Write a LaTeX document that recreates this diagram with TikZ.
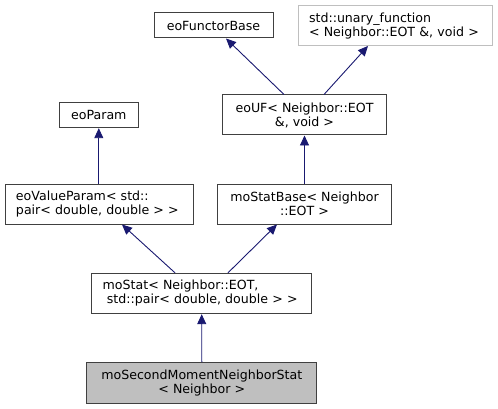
\documentclass[tikz,border=0pt]{standalone}
\usepackage{fontspec}
\setmainfont{DejaVu Sans}
\usetikzlibrary{arrows.meta}
\definecolor{edgeblue}{HTML}{191970}
\definecolor{boxgrey}{HTML}{404040}
\definecolor{lightgrey}{HTML}{BFBFBF}
\begin{document}
\begin{tikzpicture}[x=1pt,y=-1pt,
  box/.style={draw=boxgrey,line width=1pt,rectangle,inner sep=0pt,align=center,font=\fontsize{12.6}{14}\selectfont},
  lbox/.style={box,align=left,inner xsep=11pt},
  arr/.style={draw=edgeblue,line width=0.9pt,-{Triangle[length=10pt,width=9pt,fill=edgeblue]}}]
\useasboundingbox (0,0) rectangle (498,409);
\node[box,minimum width=119pt,minimum height=25pt] (fb) at (213.5,25.5) {eoFunctorBase};
\node[lbox,draw=lightgrey,text width=172pt,minimum height=39.5pt] (uf) at (395,25.7) {std::unary\_function\\< Neighbor::EOT \&, void >};
\node[box,minimum width=79pt,minimum height=25.4pt] (ep) at (98.8,115) {eoParam};
\node[box,minimum width=164.4pt,minimum height=40pt] (eouf) at (304.5,115) {eoUF< Neighbor::EOT\\\&, void >};
\node[lbox,text width=166pt,minimum height=40pt] (evp) at (99,204) {eoValueParam< std::\\pair< double, double > >};
\node[box,minimum width=174.4pt,minimum height=40pt] (msb) at (304.5,204) {moStatBase< Neighbor\\::EOT >};
\node[lbox,text width=198pt,minimum height=40.4pt] (ms) at (201.7,293.5) {moStat< Neighbor::EOT,\\\ std::pair< double, double > >};
\node[box,fill=lightgrey,minimum width=229.7pt,minimum height=40.6pt] (msn) at (201.8,383) {moSecondMomentNeighborStat\\< Neighbor >};
\draw[arr] (eouf.north -| 284,0) -- (fb.south -| 226,0);
\draw[arr] (eouf.north -| 324,0) -- (uf.south -| 368,0);
\draw[arr] (evp.north -| ep.south) -- (ep.south);
\draw[arr] (msb.north) -- (eouf.south);
\draw[arr] (ms.north -| 175,0) -- (evp.south -| 122,0);
\draw[arr] (ms.north -| 228,0) -- (msb.south -| 277,0);
\draw[arr] (msn.north) -- (ms.south);
\end{tikzpicture}
\end{document}
